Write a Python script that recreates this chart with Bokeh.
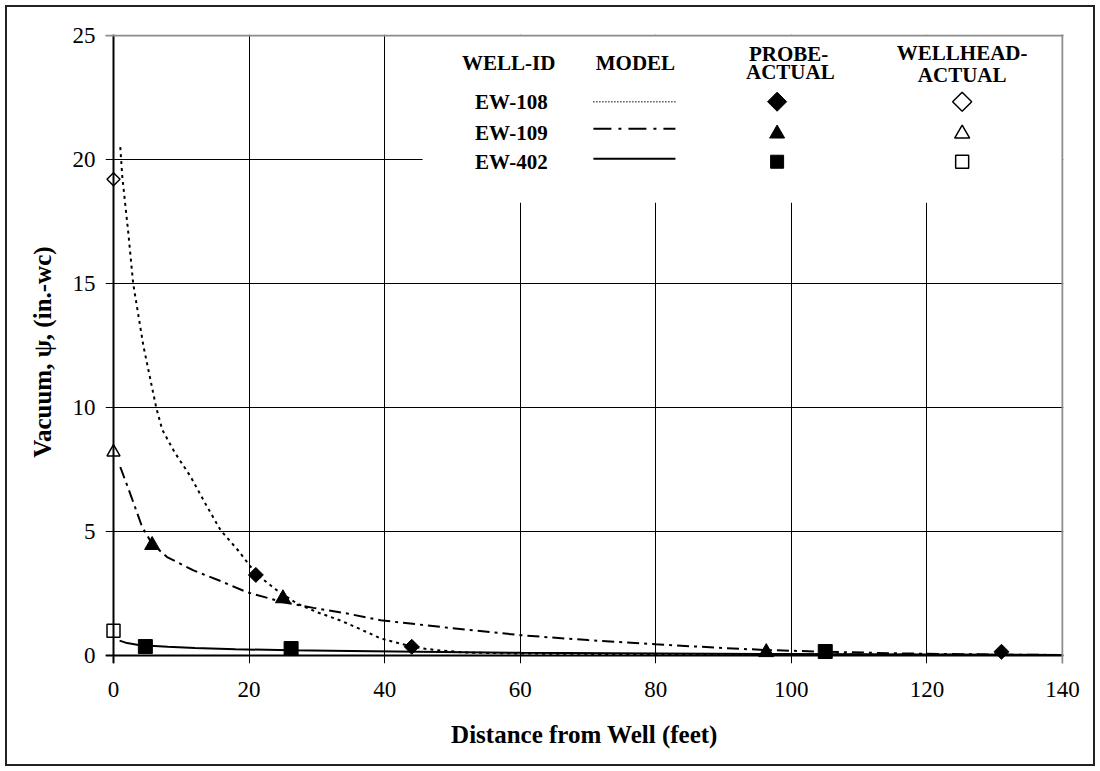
from math import pi
from bokeh.plotting import figure
from bokeh.models import Range1d, Span, FixedTicker
from bokeh.core.properties import value
from bokeh.embed import file_html
from bokeh.resources import INLINE

# ---------------- data ----------------
x_ticks = [0, 20, 40, 60, 80, 100, 120, 140]
y_ticks = [0, 5, 10, 15, 20, 25]

well_ids = ["EW-108", "EW-109", "EW-402"]

# model curves
ew108_model_x = [1.0, 1.3, 2.2, 2.9, 4.4, 6.3, 7.2, 9.0, 11.4, 13.5, 15.8, 18.5, 21.0, 24.0, 27.1, 30.0,
                 33.5, 36.5, 39.4, 42.0, 44.0, 46.0, 48.3, 52.0, 60.0, 80.0, 100.0, 120.0, 140.0]
ew108_model_y = [20.5, 19.3, 17.0, 15.0, 12.5, 10.0, 9.1, 8.2, 7.2, 6.15, 5.05, 4.2, 3.3, 2.65, 2.09, 1.75,
                 1.41, 1.05, 0.69, 0.5, 0.36, 0.27, 0.2, 0.12, 0.08, 0.05, 0.04, 0.03, 0.02]

ew109_model_x = [1.0, 2.5, 4.2, 5.7, 7.9, 11.8, 15.8, 19.7, 25.0, 29.5, 34.5, 39.4, 50.0, 60.0, 70.0,
                 80.0, 90.0, 96.3, 105.0, 115.0, 125.0, 140.0]
ew109_model_y = [7.6, 6.5, 5.2, 4.5, 3.97, 3.43, 3.0, 2.55, 2.15, 1.92, 1.69, 1.42, 1.1, 0.82, 0.62,
                 0.45, 0.3, 0.22, 0.15, 0.09, 0.05, 0.02]

ew402_model_x = [0.9, 2.0, 3.5, 4.7, 8.0, 12.0, 18.0, 26.2, 35.0, 45.0, 60.0, 80.0, 100.0, 120.0, 140.0]
ew402_model_y = [0.6, 0.5, 0.43, 0.4, 0.35, 0.3, 0.25, 0.21, 0.18, 0.15, 0.11, 0.08, 0.06, 0.04, 0.02]

# probe-actual measurements
ew108_probe_x = [21.0, 44.0, 131.0]
ew108_probe_y = [3.25, 0.35, 0.15]
ew109_probe_x = [5.7, 25.0, 96.3]
ew109_probe_y = [4.45, 2.3, 0.13]
ew402_probe_x = [4.7, 26.2, 105.0]
ew402_probe_y = [0.36, 0.28, 0.16]

# wellhead-actual measurements
wellhead_x = [0.0, 0.0, 0.0]
wellhead_y = [19.2, 8.2, 1.0]

# ---------------- styling / layout ----------------
SERIF = "Liberation Serif"
INK = "black"

# the frame reaches a little past x=0 / y=0 so that the markers sitting on the axes are not cut
p = figure(width=1086, height=757, output_backend="svg", toolbar_location=None,
           x_range=Range1d(-1.18, 140.15), y_range=Range1d(-0.323, 25.04),
           min_border_left=98, min_border_right=30, min_border_top=27, min_border_bottom=101)
p.outline_line_color = None
p.background_fill_color = "white"
p.border_fill_color = "white"
p.styles = {"margin-left": "7px", "margin-top": "7px",
            "outline": "2px solid #222222", "outline-offset": "0px"}

for ax, ticks in ((p.xaxis, x_ticks), (p.yaxis, y_ticks)):
    ax.ticker = FixedTicker(ticks=ticks)
    ax.axis_line_color = None
    ax.major_tick_line_color = None
    ax.major_tick_out = 0
    ax.major_tick_in = 0
    ax.minor_tick_line_color = None
    ax.major_label_text_font = SERIF
    ax.major_label_text_font_size = "23px"
    ax.major_label_text_color = INK
    ax.axis_label_text_font = SERIF
    ax.axis_label_text_font_size = "25px"
    ax.axis_label_text_font_style = "bold"
    ax.axis_label_text_color = INK
p.xaxis.major_label_standoff = 18
p.yaxis.major_label_standoff = 10
p.xaxis.axis_label = "Distance from Well (feet)"
p.xaxis.axis_label_standoff = 21
p.yaxis.axis_label = "Vacuum,  ψ, (in.-wc)"
p.yaxis.axis_label_standoff = 14

# grids (their short overhang past the axes acts as the tick marks)
p.xgrid.ticker = FixedTicker(ticks=x_ticks)
p.ygrid.ticker = FixedTicker(ticks=y_ticks)
p.grid.grid_line_color = INK
p.grid.grid_line_width = 1

# legend background box (covers grid)
p.quad(left=45.6, right=140.15, bottom=18.26, top=25.04, fill_color="white", line_color=None)

# axis lines at zero and the grey top / right border of the plot area
p.add_layout(Span(location=0, dimension="height", line_color=INK, line_width=2))
p.add_layout(Span(location=0, dimension="width", line_color=INK, line_width=2))
p.add_layout(Span(location=25, dimension="width", line_color="#8c8c8c", line_width=2))
p.add_layout(Span(location=140, dimension="height", line_color="#8c8c8c", line_width=2))

# model curves
dot = "3 4"
dashdot = "12 5 3 5"
p.line(ew108_model_x, ew108_model_y, line_color=INK, line_width=2, line_dash=dot)
p.line(ew109_model_x, ew109_model_y, line_color=INK, line_width=2, line_dash=dashdot)
p.line(ew402_model_x, ew402_model_y, line_color=INK, line_width=2)

# probe-actual (filled)
p.scatter(ew108_probe_x, ew108_probe_y, marker="square", angle=pi / 4, size=10.6,
          fill_color=INK, line_color=INK)
p.scatter(ew109_probe_x, ew109_probe_y, marker="triangle", size=15, fill_color=INK, line_color=INK)
p.scatter(ew402_probe_x, ew402_probe_y, marker="square", size=14, fill_color=INK, line_color=INK)

# wellhead-actual (open)
p.scatter(wellhead_x[0:1], wellhead_y[0:1], marker="square", angle=pi / 4, size=9.2,
          fill_color="white", line_color=INK, line_width=1.5)
p.scatter(wellhead_x[1:2], wellhead_y[1:2], marker="triangle", size=13,
          fill_color="white", line_color=INK, line_width=1.5)
p.scatter(wellhead_x[2:3], wellhead_y[2:3], marker="square", size=13,
          fill_color="white", line_color=INK, line_width=1.5)

# ---------------- legend table ----------------
col_id, col_model_l, col_model_r, col_probe, col_wellhead = 58.7, 70.8, 82.9, 97.9, 125.2
row_text_y = [22.33, 21.08, 19.91]
row_line_y = [22.33, 21.24, 20.03]
row_mark_y = [22.33, 21.04, 19.91]
hdr_kw = dict(text_font=value(SERIF), text_font_style="bold", text_font_size=value("21px"),
              text_align="center", text_baseline="middle", text_color=INK)
p.text(x=[58.3, 77.0, 99.6, 99.85, 125.2, 125.2],
       y=[23.91, 23.91, 24.27, 23.51, 24.31, 23.42],
       text=["WELL-ID", "MODEL", "PROBE-", "ACTUAL", "WELLHEAD-", "ACTUAL"], **hdr_kw)
p.text(x=[col_id] * 3, y=row_text_y, text=well_ids, **hdr_kw)

p.line([col_model_l, col_model_r], [row_line_y[0]] * 2, line_color=INK, line_width=1.5, line_dash="1 2")
p.line([col_model_l, col_model_r], [row_line_y[1]] * 2, line_color=INK, line_width=2, line_dash="18 7 3 7")
p.line([col_model_l, col_model_r], [row_line_y[2]] * 2, line_color=INK, line_width=2)

p.scatter([col_probe], [row_mark_y[0]], marker="square", angle=pi / 4, size=13.5, fill_color=INK, line_color=INK)
p.scatter([col_probe], [row_mark_y[1]], marker="triangle", size=15, fill_color=INK, line_color=INK)
p.scatter([col_probe], [row_mark_y[2]], marker="square", size=13, fill_color=INK, line_color=INK)

p.scatter([col_wellhead], [row_mark_y[0]], marker="square", angle=pi / 4, size=13.5,
          fill_color="white", line_color=INK, line_width=1.5)
p.scatter([col_wellhead], [row_mark_y[1]], marker="triangle", size=15,
          fill_color="white", line_color=INK, line_width=1.5)
p.scatter([col_wellhead], [row_mark_y[2]], marker="square", size=13,
          fill_color="white", line_color=INK, line_width=1.5)

open("out.html", "w").write(file_html(p, INLINE))
